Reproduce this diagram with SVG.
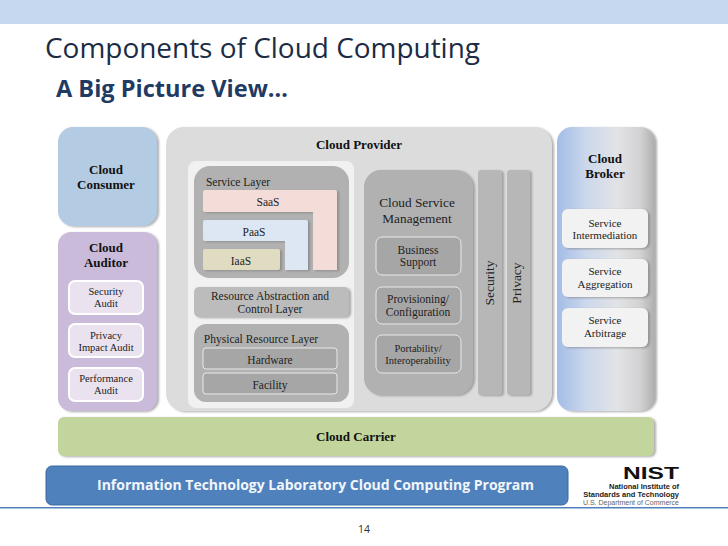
<svg xmlns="http://www.w3.org/2000/svg" width="728" height="546" viewBox="0 0 728 546">
<defs>
<linearGradient id="broker" x1="0" y1="0" x2="1" y2="0"><stop offset="0" stop-color="#a3bce6"/><stop offset="0.3" stop-color="#ccd8ec"/><stop offset="0.62" stop-color="#e2e3e6"/><stop offset="0.85" stop-color="#d2d2d2"/><stop offset="1" stop-color="#aeaeae"/></linearGradient>
<filter id="sh" x="-10%" y="-10%" width="125%" height="125%"><feDropShadow dx="2" dy="1" stdDeviation="1" flood-color="#777" flood-opacity="0.6"/></filter>
</defs>
<style>
text{font-family:"Liberation Serif",serif;fill:#222;text-anchor:middle}
.b{font-weight:bold;font-size:13px;fill:#111}
.m{font-size:11.5px}
.l{font-size:13.3px}
.s{font-size:10.5px}
.t{font-size:11px}
.box{filter:url(#sh)}
.sub{fill:#eae3ef;stroke:#fff;stroke-width:2}
.srv{fill:#f2f2f2}
.dk{fill:#a6a6a6;stroke:#e8e8e8;stroke-width:1}
.head{font-family:"Open Sans",sans-serif;text-anchor:start}
.logo{font-family:"Liberation Sans",sans-serif;text-anchor:end}
</style>
<rect width="728" height="546" fill="#fff"/>
<rect width="728" height="24" fill="#c5d8f0"/>
<text class="head" x="45" y="58" font-size="27.5" textLength="435" lengthAdjust="spacingAndGlyphs" style="fill:#1b2c44">Components of Cloud Computing</text>
<text class="head" x="56" y="97" font-size="22.5" font-weight="bold" textLength="232" lengthAdjust="spacingAndGlyphs" style="fill:#1f3a63">A Big Picture View…</text>

<g id="connectors"></g>

<g id="consumer"><rect class="box" x="58" y="127" width="99" height="99" rx="15" fill="#b4cbe4"/><text class="b" x="106" y="174">Cloud</text><text class="b" x="106" y="189">Consumer</text></g>

<g id="auditor"><rect class="box" x="58" y="232" width="99" height="179" rx="13" fill="#c9bbd9"/><text class="b" x="106" y="252">Cloud</text><text class="b" x="106" y="267">Auditor</text>
<rect class="sub" x="69" y="281" width="74" height="33" rx="6"/><text class="s" x="106" y="295">Security</text><text class="s" x="106" y="307">Audit</text>
<rect class="sub" x="69" y="324" width="74" height="33" rx="6"/><text class="s" x="106" y="339">Privacy</text><text class="s" x="106" y="351">Impact Audit</text>
<rect class="sub" x="69" y="368" width="74" height="33" rx="6"/><text class="s" x="106" y="382">Performance</text><text class="s" x="106" y="394">Audit</text></g>

<g id="provider"><rect class="box" x="166" y="127" width="386" height="284" rx="18" fill="#dcdcdc"/><text class="b" x="359" y="149">Cloud Provider</text></g>

<g id="service-orchestration"><rect x="188" y="161" width="166" height="247" rx="8" fill="#f1f1f1"/></g>

<g id="service-layer"><rect x="194" y="166" width="155" height="112" rx="16" fill="#b1b1b1"/><text class="m" x="238" y="186">Service Layer</text>
<path class="box" d="M205 190H335Q337 190 337 192V270H313V212H205Q203 212 203 210V192Q203 190 205 190Z" fill="#f4dcd9"/><text class="m" x="268" y="206">SaaS</text>
<path class="box" d="M205 220H306Q308 220 308 222V270H285V241H205Q203 241 203 239V222Q203 220 205 220Z" fill="#dde7f4"/><text class="m" x="254" y="236">PaaS</text>
<rect class="box" x="203" y="249" width="77" height="21" rx="2" fill="#e0dcc2"/><text class="m" x="241" y="265">IaaS</text></g>

<g id="resource-layer"><rect class="box" x="194" y="287" width="155" height="30" rx="5" fill="#bcbcbc"/><text class="m" x="270" y="300">Resource Abstraction and</text><text class="m" x="270" y="313">Control Layer</text></g>

<g id="physical-layer"><rect x="194" y="324" width="155" height="78" rx="12" fill="#b1b1b1"/><text class="m" x="261" y="343">Physical Resource Layer</text>
<rect class="dk" x="203" y="348" width="134" height="21" rx="3"/><text class="m" x="270" y="364">Hardware</text>
<rect class="dk" x="203" y="373" width="134" height="21" rx="3"/><text class="m" x="270" y="389">Facility</text></g>

<g id="management"><rect class="box" x="364" y="170" width="109" height="225" rx="17" fill="#b1b1b1"/><text class="l" x="417" y="207">Cloud Service</text><text class="l" x="417" y="223">Management</text>
<rect class="dk" x="376" y="237" width="85" height="38" rx="6"/><text class="m" x="418" y="254">Business</text><text class="m" x="418" y="266">Support</text>
<rect class="dk" x="376" y="287" width="85" height="37" rx="6"/><text class="m" x="418" y="303">Provisioning/</text><text class="m" x="418" y="316">Configuration</text>
<rect class="dk" x="376" y="335" width="85" height="38" rx="6"/><text class="s" x="418" y="352">Portability/</text><text class="s" x="418" y="364">Interoperability</text></g>

<g id="security"><rect class="box" x="478" y="170" width="24" height="225" rx="3" fill="#b7b7b7"/><text style="font-size:13.5px" transform="translate(494,283) rotate(-90)">Security</text></g>
<g id="privacy"><rect class="box" x="507" y="170" width="23" height="225" rx="3" fill="#b7b7b7"/><text style="font-size:13.5px" transform="translate(521,283) rotate(-90)">Privacy</text></g>

<g id="broker-node"><rect class="box" x="557" y="127" width="98" height="284" rx="15" fill="url(#broker)"/><text class="b" x="605" y="163">Cloud</text><text class="b" x="605" y="178">Broker</text>
<rect class="srv box" x="562" y="209" width="86" height="39" rx="6"/><text class="t" x="605" y="227">Service</text><text class="t" x="605" y="239">Intermediation</text>
<rect class="srv box" x="562" y="259" width="86" height="38" rx="6"/><text class="t" x="605" y="275">Service</text><text class="t" x="605" y="288">Aggregation</text>
<rect class="srv box" x="562" y="308" width="86" height="39" rx="6"/><text class="t" x="605" y="324">Service</text><text class="t" x="605" y="337">Arbitrage</text></g>

<g id="carrier"><rect class="box" x="58" y="417" width="596" height="39" rx="6" fill="#c2d59c"/><text class="b" x="356" y="441">Cloud Carrier</text></g>

<g id="banner"><rect x="46" y="466" width="522" height="39" rx="6" fill="#4f81bd" stroke="#3a6a9f"/><text x="315.5" y="490" font-size="14" font-weight="bold" textLength="437" lengthAdjust="spacingAndGlyphs" style="fill:#f2f5fa;font-family:'Open Sans',sans-serif">Information Technology Laboratory Cloud Computing Program</text></g>

<g id="nist"><text class="logo" x="679" y="479" font-size="17" font-weight="bold" textLength="56" lengthAdjust="spacingAndGlyphs" style="fill:#111">NIST</text>
<text class="logo" x="679" y="489" font-size="7.5" font-weight="bold">National Institute of</text>
<text class="logo" x="679" y="497" font-size="7.5" font-weight="bold">Standards and Technology</text>
<text class="logo" x="679" y="505" font-size="7" style="fill:#666">U.S. Department of Commerce</text></g>

<rect x="0" y="507" width="728" height="1.5" fill="#4f81bd"/>
<text x="364" y="533" font-size="10.5" style="fill:#333;font-family:'Open Sans',sans-serif">14</text>
</svg>
